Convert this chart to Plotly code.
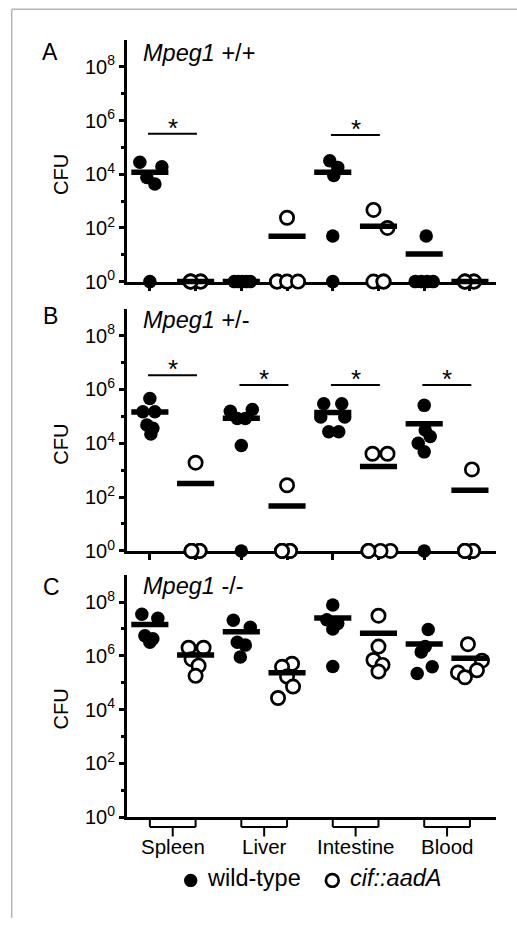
import numpy as np
import plotly.graph_objects as go

# ---------------- data ----------------
organs = ["Spleen", "Liver", "Intestine", "Blood"]
strains = ["wild-type", "cif::aadA"]
panel_letters = ["A", "B", "C"]
genotypes = ["+/+", "+/-", "-/-"]
tick_exponents = [0, 2, 4, 6, 8]
minor_exponents = [1, 3, 5, 7]

# CFU per fish (undetected plotted at 10^0), one list per organ
A_wild_type = [[28000, 19000, 7500, 4300, 1],
               [1, 1, 1, 1, 1],
               [32000, 18000, 9000, 50, 1],
               [50, 1, 1, 1, 1]]
A_cif = [[1, 1, 1, 1, 1],
         [240, 1, 1, 1, 1],
         [470, 100, 1, 1, 1],
         [1, 1, 1, 1, 1]]
B_wild_type = [[460000, 150000, 150000, 48000, 36000, 22000],
               [155000, 182000, 83000, 83000, 8300, 1],
               [295000, 295000, 96000, 96000, 27000, 27000],
               [257000, 31000, 18000, 10000, 4800, 1]]
B_cif = [[1900, 1, 1, 1, 1, 1],
         [275, 1, 1, 1, 1, 1],
         [4100, 4100, 1, 1, 1, 1],
         [1070, 1, 1, 1, 1, 1]]
C_wild_type = [[35e6, 25e6, 5.6e6, 4.3e6, 3.2e6],
               [21e6, 11.5e6, 3.2e6, 2.5e6, 0.9e6],
               [78e6, 22e6, 16e6, 10e6, 0.4e6],
               [9.5e6, 2.2e6, 1.4e6, 0.39e6, 0.22e6]]
C_cif = [[2.0e6, 2.0e6, 0.75e6, 0.43e6, 0.18e6],
         [510e3, 390e3, 170e3, 72e3, 27e3],
         [31e6, 2.2e6, 0.7e6, 0.46e6, 0.26e6],
         [2.7e6, 0.66e6, 0.29e6, 0.24e6, 0.16e6]]

# significance bars: organ index and height (CFU)
A_sig_organs = [0, 2]
A_sig_levels = [3.2e5, 2.9e5]
B_sig_organs = [0, 1, 2, 3]
B_sig_levels = [3.4e6, 1.48e6, 1.48e6, 1.48e6]
C_sig_organs = []
C_sig_levels = []

# ---------------- horizontal scatter of points (pixels) ----------------
A_wild_type_dx = [[-10, 12, -3, 5, 0], [-7, -3, 1, 5, 9], [-3, 5, 1, 0, 0], [2, -9, -3, 3, 9]]
A_cif_dx = [[-5, 5, -5, 5, -5], [0, -10, -10, 0, 11], [-5, 9, -5, 5, 5], [-5, 4, -5, 4, -5]]
B_wild_type_dx = [[0, -7, 5, -3, 3, 1], [-11, 11, -4, 4, 0, 0], [-9, 9, -12, 12, -4, 6], [0, 1, 6, -6, 0, 0]]
B_cif_dx = [[0, -4, 4, -4, 4, -4], [0, -5, 3, -5, 3, -5], [-6, 9, -10, 12, 2, -10], [2, -5, 3, -5, 3, -5]]
C_wild_type_dx = [[-8, 8, -5, 3, 0], [-8, 9, -4, 4, -1], [0, -6, 5, 0, 0], [4, 1, -3, 8, -7]]
C_cif_dx = [[-7, 8, -4, 3, 0], [5, -5, 0, 6, -9], [0, 0, -5, 4, 0], [-2, 12, 7, -12, -5]]

panels = [
    (A_wild_type, A_cif, A_wild_type_dx, A_cif_dx, A_sig_organs, A_sig_levels),
    (B_wild_type, B_cif, B_wild_type_dx, B_cif_dx, B_sig_organs, B_sig_levels),
    (C_wild_type, C_cif, C_wild_type_dx, C_cif_dx, C_sig_organs, C_sig_levels),
]

# ---------------- layout geometry ----------------
W, H = 517, 929
FONT = "Arial, 'Liberation Sans', sans-serif"
x_left_px, x_right_px = 127, 496
x_range = [-0.5, 7.57]
px_per_unit = (x_right_px - x_left_px) / (x_range[1] - x_range[0])
# (bottom px of 10^0, top px of 10^9) for each panel
panel_px = [(285, 40.5), (557.5, 312.5), (827, 582)]


def px2x(px):
    return px / W


def px2y(py):
    return 1 - py / H


fig = go.Figure()
annotations = []
shapes = []

for p, (wt, cif, wt_dx, cif_dx, sig_org, sig_lvl) in enumerate(panels):
    sfx = "" if p == 0 else str(p + 1)
    xa, ya = "x" + sfx, "y" + sfx
    for k in range(len(organs)):
        for s, (vals, dxs) in enumerate([(wt[k], wt_dx[k]), (cif[k], cif_dx[k])]):
            pos = 2 * k + s
            xs = [pos + d / px_per_unit for d in dxs]
            if s == 0:
                marker = dict(symbol="circle", size=13.5, color="black", line=dict(width=0))
            else:
                marker = dict(symbol="circle", size=13.3, color="white",
                              line=dict(width=2.7, color="black"))
            fig.add_trace(go.Scatter(x=xs, y=vals, mode="markers", marker=marker,
                                     xaxis=xa, yaxis=ya, cliponaxis=False,
                                     hoverinfo="skip", showlegend=False))
    # mean bars
    for k in range(len(organs)):
        for s, vals in enumerate([wt[k], cif[k]]):
            pos = 2 * k + s
            fig.add_trace(go.Scatter(x=[pos], y=[float(np.mean(vals))], mode="markers",
                                     marker=dict(symbol="line-ew", size=26.5,
                                                 line=dict(width=5.5, color="black")),
                                     xaxis=xa, yaxis=ya, cliponaxis=False,
                                     hoverinfo="skip", showlegend=False))
    # significance
    for k, lvl in zip(sig_org, sig_lvl):
        fig.add_trace(go.Scatter(x=[2 * k - 0.04, 2 * k + 1.03], y=[lvl, lvl], mode="lines",
                                 line=dict(color="black", width=2),
                                 xaxis=xa, yaxis=ya, cliponaxis=False,
                                 hoverinfo="skip", showlegend=False))
        annotations.append(dict(x=2 * k + 0.5, y=np.log10(lvl), xref=xa, yref=ya,
                                text="*", showarrow=False, yanchor="middle", yshift=6,
                                font=dict(size=26, color="black", family=FONT)))

    y0px, y1px = panel_px[p]
    fig.layout["xaxis" + sfx] = dict(
        domain=[px2x(x_left_px), px2x(x_right_px)], range=x_range, anchor=ya,
        showline=True, linewidth=3, linecolor="black", showgrid=False, zeroline=False,
        tickmode="array", tickvals=list(range(8)), showticklabels=False,
        ticks="outside" if p < 2 else "", ticklen=6, tickwidth=2.5, tickcolor="black",
        layer="below traces", fixedrange=True)
    fig.layout["yaxis" + sfx] = dict(
        domain=[px2y(y0px), px2y(y1px)], type="log", range=[0, 9], anchor=xa,
        showline=True, linewidth=3, linecolor="black", showgrid=False, zeroline=False,
        tickmode="array", tickvals=[10 ** e for e in tick_exponents],
        ticktext=["10<sup>%d</sup>" % e for e in tick_exponents],
        ticks="outside", ticklen=5, tickwidth=2.5, tickcolor="black",
        tickfont=dict(size=20, color="black", family=FONT),
        minor=dict(tickmode="array", tickvals=[10 ** e for e in minor_exponents],
                   ticks="outside", ticklen=3.5, tickwidth=2.5, tickcolor="black",
                   showgrid=False),
        fixedrange=True)

# panel letters, titles, y titles
letter_px = [(50, 53), (50, 320), (51, 594)]
title_px = [(141, 53.5), (141, 324), (141, 593)]
cfu_px = [(61, 177), (61, 450), (61, 718)]
for p in range(3):
    lx, ly = letter_px[p]
    annotations.append(dict(x=px2x(lx), y=px2y(ly), xref="paper", yref="paper",
                            text=panel_letters[p], showarrow=False,
                            xanchor="center", yanchor="middle",
                            font=dict(size=23, color="black", family=FONT)))
    tx, ty = title_px[p]
    annotations.append(dict(x=px2x(tx), y=px2y(ty), xref="paper", yref="paper",
                            text="<i>Mpeg1</i> " + genotypes[p], showarrow=False,
                            xanchor="left", yanchor="middle",
                            font=dict(size=23.5, color="black", family=FONT)))
    cx, cy = cfu_px[p]
    annotations.append(dict(x=px2x(cx), y=px2y(cy), xref="paper", yref="paper",
                            text="CFU", showarrow=False, textangle=-90,
                            xanchor="center", yanchor="middle",
                            font=dict(size=20, color="black", family=FONT)))

# organ brackets and labels under panel C
axis_y, brk_y, brk_tick = 827, 837, 846.5
for k, organ in enumerate(organs):
    a, b = 2 * k, 2 * k + 1
    for xv in (a, b):
        shapes.append(dict(type="line", xref="x3", yref="paper", x0=xv, x1=xv,
                           y0=px2y(axis_y), y1=px2y(brk_y), line=dict(color="black", width=2)))
    shapes.append(dict(type="line", xref="x3", yref="paper", x0=a, x1=b,
                       y0=px2y(brk_y), y1=px2y(brk_y), line=dict(color="black", width=2)))
    shapes.append(dict(type="line", xref="x3", yref="paper", x0=a + 0.5, x1=a + 0.5,
                       y0=px2y(brk_y), y1=px2y(brk_tick), line=dict(color="black", width=2)))
    annotations.append(dict(x=a + 0.5, y=px2y(857), xref="x3", yref="paper",
                            text=organ, showarrow=False, xanchor="center", yanchor="middle",
                            font=dict(size=20.5, color="black", family=FONT)))

# legend
leg_y = 891
r_f = 6.7
shapes.append(dict(type="circle", xref="paper", yref="paper",
                   x0=px2x(190.7 - r_f), x1=px2x(190.7 + r_f),
                   y0=px2y(leg_y + r_f), y1=px2y(leg_y - r_f),
                   fillcolor="black", line=dict(width=0)))
r_o = 6.4
shapes.append(dict(type="circle", xref="paper", yref="paper",
                   x0=px2x(332.3 - r_o), x1=px2x(332.3 + r_o),
                   y0=px2y(leg_y + r_o), y1=px2y(leg_y - r_o),
                   fillcolor="white", line=dict(width=2.7, color="black")))
annotations.append(dict(x=px2x(205), y=px2y(889), xref="paper", yref="paper",
                        text=strains[0], showarrow=False, xanchor="left", yanchor="middle",
                        font=dict(size=23.5, color="black", family=FONT)))
annotations.append(dict(x=px2x(348), y=px2y(889), xref="paper", yref="paper",
                        text="<i>" + strains[1] + "</i>", showarrow=False,
                        xanchor="left", yanchor="middle",
                        font=dict(size=23.5, color="black", family=FONT)))

# light frame
shapes.append(dict(type="line", xref="paper", yref="paper", x0=px2x(11.7), x1=1,
                   y0=px2y(9.3), y1=px2y(9.3), line=dict(color="#b5b5b5", width=1.5)))
shapes.append(dict(type="line", xref="paper", yref="paper", x0=px2x(11.7), x1=px2x(11.7),
                   y0=px2y(9.3), y1=0, line=dict(color="#b5b5b5", width=1.5)))

fig.update_layout(width=W, height=H, margin=dict(l=0, r=0, t=0, b=0),
                  paper_bgcolor="white", plot_bgcolor="white", showlegend=False,
                  annotations=annotations, shapes=shapes,
                  font=dict(family=FONT, color="black"))

fig.write_html("out.html", config={"displayModeBar": False})

# remove the default 8px body margin so the figure sits at the window origin
with open("out.html", "r", encoding="utf-8") as f:
    html = f.read()
html = html.replace("<head>", "<head><style>html,body{margin:0;padding:0;overflow:hidden;}</style>", 1)
with open("out.html", "w", encoding="utf-8") as f:
    f.write(html)
